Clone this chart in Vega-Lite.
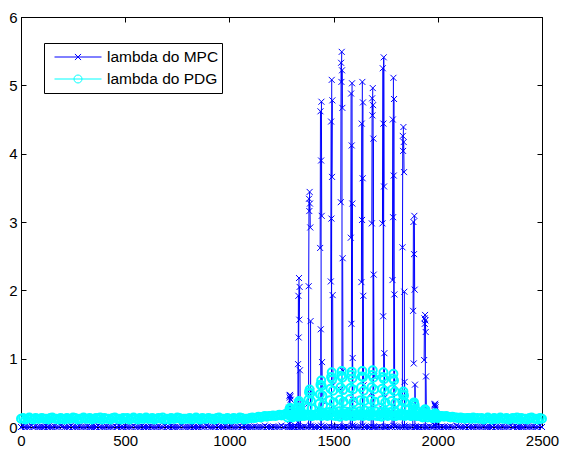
{
 "$schema": "https://vega.github.io/schema/vega-lite/v6.json",
 "width": 521,
 "height": 410,
 "autosize": {"type": "none"},
 "padding": {"left": 21, "top": 17, "right": 21, "bottom": 25},
 "background": "white",
 "data": {"values": [
{"x":0,"MPC":0,"PDG":0.12},{"x":10,"MPC":0.01,"PDG":0.13},{"x":20,"MPC":0,"PDG":0.11},{"x":30,"MPC":0,"PDG":0.12},{"x":40,"MPC":0,"PDG":0.14},{"x":50,"MPC":0.02,"PDG":0.12},{"x":60,"MPC":0,"PDG":0.11},{"x":70,"MPC":0.01,"PDG":0.13},{"x":80,"MPC":0,"PDG":0.12},{"x":90,"MPC":0,"PDG":0.12},
{"x":100,"MPC":0,"PDG":0.13},{"x":110,"MPC":0,"PDG":0.12},{"x":120,"MPC":0.01,"PDG":0.12},{"x":130,"MPC":0,"PDG":0.11},{"x":140,"MPC":0,"PDG":0.13},{"x":150,"MPC":0,"PDG":0.14},{"x":160,"MPC":0.01,"PDG":0.12},{"x":170,"MPC":0,"PDG":0.12},{"x":180,"MPC":0,"PDG":0.11},{"x":190,"MPC":0.02,"PDG":0.13},
{"x":200,"MPC":0.01,"PDG":0.12},{"x":210,"MPC":0,"PDG":0.11},{"x":220,"MPC":0,"PDG":0.13},{"x":230,"MPC":0,"PDG":0.12},{"x":240,"MPC":0.02,"PDG":0.12},{"x":250,"MPC":0,"PDG":0.14},{"x":260,"MPC":0,"PDG":0.13},{"x":270,"MPC":0,"PDG":0.11},{"x":280,"MPC":0.01,"PDG":0.12},{"x":290,"MPC":0,"PDG":0.12},
{"x":300,"MPC":0,"PDG":0.14},{"x":310,"MPC":0,"PDG":0.12},{"x":320,"MPC":0.01,"PDG":0.12},{"x":330,"MPC":0,"PDG":0.13},{"x":340,"MPC":0,"PDG":0.11},{"x":350,"MPC":0,"PDG":0.12},{"x":360,"MPC":0,"PDG":0.13},{"x":370,"MPC":0.02,"PDG":0.12},{"x":380,"MPC":0,"PDG":0.14},{"x":390,"MPC":0,"PDG":0.11},
{"x":400,"MPC":0,"PDG":0.13},{"x":410,"MPC":0.01,"PDG":0.12},{"x":420,"MPC":0,"PDG":0.12},{"x":430,"MPC":0,"PDG":0.11},{"x":440,"MPC":0,"PDG":0.13},{"x":450,"MPC":0.02,"PDG":0.14},{"x":460,"MPC":0,"PDG":0.12},{"x":470,"MPC":0.01,"PDG":0.12},{"x":480,"MPC":0,"PDG":0.11},{"x":490,"MPC":0,"PDG":0.13},
{"x":500,"MPC":0.01,"PDG":0.12},{"x":510,"MPC":0,"PDG":0.13},{"x":520,"MPC":0,"PDG":0.11},{"x":530,"MPC":0,"PDG":0.12},{"x":540,"MPC":0.02,"PDG":0.14},{"x":550,"MPC":0,"PDG":0.12},{"x":560,"MPC":0,"PDG":0.11},{"x":570,"MPC":0,"PDG":0.13},{"x":580,"MPC":0.01,"PDG":0.12},{"x":590,"MPC":0,"PDG":0.12},
{"x":600,"MPC":0,"PDG":0.14},{"x":610,"MPC":0,"PDG":0.12},{"x":620,"MPC":0.01,"PDG":0.12},{"x":630,"MPC":0,"PDG":0.13},{"x":640,"MPC":0,"PDG":0.11},{"x":650,"MPC":0,"PDG":0.12},{"x":660,"MPC":0.01,"PDG":0.13},{"x":670,"MPC":0,"PDG":0.12},{"x":680,"MPC":0,"PDG":0.14},{"x":690,"MPC":0.02,"PDG":0.11},
{"x":700,"MPC":0,"PDG":0.12},{"x":710,"MPC":0,"PDG":0.11},{"x":720,"MPC":0.01,"PDG":0.13},{"x":730,"MPC":0,"PDG":0.12},{"x":740,"MPC":0,"PDG":0.12},{"x":750,"MPC":0,"PDG":0.14},{"x":760,"MPC":0,"PDG":0.13},{"x":770,"MPC":0.02,"PDG":0.11},{"x":780,"MPC":0,"PDG":0.12},{"x":790,"MPC":0,"PDG":0.12},
{"x":800,"MPC":0,"PDG":0.12},{"x":810,"MPC":0,"PDG":0.13},{"x":820,"MPC":0.01,"PDG":0.11},{"x":830,"MPC":0,"PDG":0.12},{"x":840,"MPC":0,"PDG":0.14},{"x":850,"MPC":0,"PDG":0.12},{"x":860,"MPC":0.01,"PDG":0.11},{"x":870,"MPC":0,"PDG":0.13},{"x":880,"MPC":0,"PDG":0.12},{"x":890,"MPC":0.02,"PDG":0.12},
{"x":900,"MPC":0.01,"PDG":0.13},{"x":910,"MPC":0,"PDG":0.12},{"x":920,"MPC":0,"PDG":0.12},{"x":930,"MPC":0,"PDG":0.11},{"x":940,"MPC":0.02,"PDG":0.13},{"x":950,"MPC":0,"PDG":0.14},{"x":960,"MPC":0,"PDG":0.12},{"x":970,"MPC":0,"PDG":0.12},{"x":980,"MPC":0.01,"PDG":0.11},{"x":990,"MPC":0,"PDG":0.13},
{"x":1000,"MPC":0,"PDG":0.12},{"x":1010,"MPC":0.01,"PDG":0.11},{"x":1020,"MPC":0,"PDG":0.13},{"x":1030,"MPC":0,"PDG":0.12},{"x":1040,"MPC":0,"PDG":0.12},{"x":1050,"MPC":0.02,"PDG":0.14},{"x":1060,"MPC":0,"PDG":0.13},{"x":1070,"MPC":0.01,"PDG":0.11},{"x":1080,"MPC":0,"PDG":0.12},{"x":1090,"MPC":0,"PDG":0.12},
{"x":1100,"MPC":0,"PDG":0.13},{"x":1110,"MPC":0,"PDG":0.14},{"x":1120,"MPC":0.01,"PDG":0.13},{"x":1130,"MPC":0,"PDG":0.14},{"x":1140,"MPC":0,"PDG":0.15},{"x":1150,"MPC":0,"PDG":0.14},{"x":1160,"MPC":0,"PDG":0.15},{"x":1170,"MPC":0.02,"PDG":0.16},{"x":1180,"MPC":0,"PDG":0.15},{"x":1190,"MPC":0,"PDG":0.16},
{"x":1200,"MPC":0,"PDG":0.16},{"x":1210,"MPC":0.01,"PDG":0.17},{"x":1220,"MPC":0,"PDG":0.16},{"x":1230,"MPC":0,"PDG":0.17},{"x":1240,"MPC":0,"PDG":0.18},{"x":1250,"MPC":0.02,"PDG":0.17},{"x":1260,"MPC":0,"PDG":0.18},{"x":1270,"MPC":0.01,"PDG":0.19},{"x":1280,"MPC":0,"PDG":0.18},{"x":1290,"MPC":0,"PDG":0.17},
{"x":1300,"MPC":0,"PDG":0.17},{"x":1310,"MPC":0,"PDG":0.16},{"x":1320,"MPC":0.01,"PDG":0.18},{"x":1330,"MPC":0,"PDG":0.15},{"x":1340,"MPC":0,"PDG":0.17},{"x":1350,"MPC":0,"PDG":0.19},{"x":1360,"MPC":0.01,"PDG":0.16},{"x":1370,"MPC":0,"PDG":0.18},{"x":1380,"MPC":0,"PDG":0.17},{"x":1390,"MPC":0.02,"PDG":0.16},
{"x":1400,"MPC":0.01,"PDG":0.16},{"x":1410,"MPC":0,"PDG":0.18},{"x":1420,"MPC":0,"PDG":0.17},{"x":1430,"MPC":0,"PDG":0.19},{"x":1440,"MPC":0.02,"PDG":0.16},{"x":1450,"MPC":0,"PDG":0.17},{"x":1460,"MPC":0,"PDG":0.18},{"x":1470,"MPC":0,"PDG":0.16},{"x":1480,"MPC":0.01,"PDG":0.19},{"x":1490,"MPC":0,"PDG":0.17},
{"x":1500,"MPC":0,"PDG":0.17},{"x":1510,"MPC":0,"PDG":0.16},{"x":1520,"MPC":0.01,"PDG":0.18},{"x":1530,"MPC":0,"PDG":0.15},{"x":1540,"MPC":0,"PDG":0.17},{"x":1550,"MPC":0,"PDG":0.19},{"x":1560,"MPC":0.01,"PDG":0.16},{"x":1570,"MPC":0,"PDG":0.18},{"x":1580,"MPC":0,"PDG":0.17},{"x":1590,"MPC":0.02,"PDG":0.16},
{"x":1600,"MPC":0.01,"PDG":0.16},{"x":1610,"MPC":0,"PDG":0.18},{"x":1620,"MPC":0,"PDG":0.17},{"x":1630,"MPC":0,"PDG":0.19},{"x":1640,"MPC":0.02,"PDG":0.16},{"x":1650,"MPC":0,"PDG":0.17},{"x":1660,"MPC":0,"PDG":0.18},{"x":1670,"MPC":0,"PDG":0.16},{"x":1680,"MPC":0.01,"PDG":0.19},{"x":1690,"MPC":0,"PDG":0.17},
{"x":1700,"MPC":0,"PDG":0.17},{"x":1710,"MPC":0,"PDG":0.16},{"x":1720,"MPC":0.01,"PDG":0.18},{"x":1730,"MPC":0,"PDG":0.15},{"x":1740,"MPC":0,"PDG":0.17},{"x":1750,"MPC":0,"PDG":0.19},{"x":1760,"MPC":0.01,"PDG":0.16},{"x":1770,"MPC":0,"PDG":0.18},{"x":1780,"MPC":0,"PDG":0.17},{"x":1790,"MPC":0.02,"PDG":0.16},
{"x":1800,"MPC":0.01,"PDG":0.16},{"x":1810,"MPC":0,"PDG":0.18},{"x":1820,"MPC":0,"PDG":0.17},{"x":1830,"MPC":0,"PDG":0.19},{"x":1840,"MPC":0.02,"PDG":0.16},{"x":1850,"MPC":0,"PDG":0.17},{"x":1860,"MPC":0,"PDG":0.18},{"x":1870,"MPC":0,"PDG":0.16},{"x":1880,"MPC":0.01,"PDG":0.19},{"x":1890,"MPC":0,"PDG":0.17},
{"x":1900,"MPC":0,"PDG":0.17},{"x":1910,"MPC":0,"PDG":0.16},{"x":1920,"MPC":0.01,"PDG":0.18},{"x":1930,"MPC":0,"PDG":0.15},{"x":1940,"MPC":0,"PDG":0.17},{"x":1950,"MPC":0,"PDG":0.19},{"x":1960,"MPC":0.01,"PDG":0.16},{"x":1970,"MPC":0,"PDG":0.18},{"x":1980,"MPC":0,"PDG":0.17},{"x":1990,"MPC":0.02,"PDG":0.16},
{"x":2000,"MPC":0,"PDG":0.17},{"x":2010,"MPC":0,"PDG":0.16},{"x":2020,"MPC":0.01,"PDG":0.16},{"x":2030,"MPC":0,"PDG":0.15},{"x":2040,"MPC":0,"PDG":0.16},{"x":2050,"MPC":0,"PDG":0.15},{"x":2060,"MPC":0.01,"PDG":0.14},{"x":2070,"MPC":0,"PDG":0.15},{"x":2080,"MPC":0,"PDG":0.14},{"x":2090,"MPC":0.02,"PDG":0.14},
{"x":2100,"MPC":0.01,"PDG":0.13},{"x":2110,"MPC":0,"PDG":0.14},{"x":2120,"MPC":0,"PDG":0.13},{"x":2130,"MPC":0,"PDG":0.12},{"x":2140,"MPC":0.02,"PDG":0.13},{"x":2150,"MPC":0,"PDG":0.13},{"x":2160,"MPC":0,"PDG":0.12},{"x":2170,"MPC":0,"PDG":0.14},{"x":2180,"MPC":0.01,"PDG":0.12},{"x":2190,"MPC":0,"PDG":0.13},
{"x":2200,"MPC":0,"PDG":0.12},{"x":2210,"MPC":0,"PDG":0.13},{"x":2220,"MPC":0.01,"PDG":0.11},{"x":2230,"MPC":0,"PDG":0.12},{"x":2240,"MPC":0,"PDG":0.14},{"x":2250,"MPC":0,"PDG":0.12},{"x":2260,"MPC":0,"PDG":0.11},{"x":2270,"MPC":0.02,"PDG":0.13},{"x":2280,"MPC":0,"PDG":0.12},{"x":2290,"MPC":0,"PDG":0.12},
{"x":2300,"MPC":0,"PDG":0.14},{"x":2310,"MPC":0.01,"PDG":0.12},{"x":2320,"MPC":0,"PDG":0.12},{"x":2330,"MPC":0,"PDG":0.13},{"x":2340,"MPC":0,"PDG":0.11},{"x":2350,"MPC":0.02,"PDG":0.12},{"x":2360,"MPC":0,"PDG":0.13},{"x":2370,"MPC":0.01,"PDG":0.12},{"x":2380,"MPC":0,"PDG":0.14},{"x":2390,"MPC":0,"PDG":0.11},
{"x":2400,"MPC":0,"PDG":0.13},{"x":2410,"MPC":0,"PDG":0.12},{"x":2420,"MPC":0.01,"PDG":0.12},{"x":2430,"MPC":0,"PDG":0.11},{"x":2440,"MPC":0,"PDG":0.13},{"x":2450,"MPC":0,"PDG":0.14},{"x":2460,"MPC":0.01,"PDG":0.12},{"x":2470,"MPC":0,"PDG":0.12},{"x":2480,"MPC":0,"PDG":0.11},{"x":2490,"MPC":0.02,"PDG":0.13},
{"x":2500,"MPC":0,"PDG":0.12},
{"x":1285,"MPC":0.05},{"x":1286.5,"MPC":0.28},{"x":1288,"MPC":0.46},{"x":1289.5,"MPC":0.43},{"x":1291,"MPC":0.47},{"x":1292.5,"MPC":0.45},{"x":1294,"MPC":0.40},{"x":1295.5,"MPC":0.21},{"x":1297,"MPC":0.07},{"x":1298.5,"MPC":0},
{"x":1328,"MPC":0.07},{"x":1329.5,"MPC":0.92},{"x":1331,"MPC":1.92},{"x":1332.5,"MPC":1.31},{"x":1334,"MPC":2.18},{"x":1335.5,"MPC":1.57},{"x":1337,"MPC":2.05},{"x":1338.5,"MPC":0.83},{"x":1340,"MPC":0.26},{"x":1341.5,"MPC":0},
{"x":1379,"MPC":0.34},{"x":1380.5,"MPC":2.06},{"x":1382,"MPC":3.34},{"x":1383.5,"MPC":3.16},{"x":1385,"MPC":3.44},{"x":1386.5,"MPC":3.27},{"x":1388,"MPC":2.92},{"x":1389.5,"MPC":1.55},{"x":1391,"MPC":0.52},{"x":1392.5,"MPC":0},
{"x":1434,"MPC":0.24},{"x":1435.5,"MPC":2.62},{"x":1437,"MPC":4.62},{"x":1438.5,"MPC":1.43},{"x":1440,"MPC":3.90},{"x":1441.5,"MPC":4.76},{"x":1443,"MPC":3.09},{"x":1444.5,"MPC":0.95},{"x":1446,"MPC":0.38},{"x":1447.5,"MPC":0},
{"x":1485,"MPC":0.15},{"x":1486.5,"MPC":2.13},{"x":1488,"MPC":4.47},{"x":1489.5,"MPC":3.05},{"x":1491,"MPC":5.08},{"x":1492.5,"MPC":3.66},{"x":1494,"MPC":4.78},{"x":1495.5,"MPC":1.93},{"x":1497,"MPC":0.61},{"x":1498.5,"MPC":0},
{"x":1533,"MPC":0.55},{"x":1534.5,"MPC":3.29},{"x":1536,"MPC":5.33},{"x":1537.5,"MPC":5.05},{"x":1539,"MPC":5.49},{"x":1540.5,"MPC":5.22},{"x":1542,"MPC":4.67},{"x":1543.5,"MPC":2.47},{"x":1545,"MPC":0.82},{"x":1546.5,"MPC":0},
{"x":1581,"MPC":0.25},{"x":1582.5,"MPC":2.77},{"x":1584,"MPC":4.88},{"x":1585.5,"MPC":1.51},{"x":1587,"MPC":4.12},{"x":1588.5,"MPC":5.03},{"x":1590,"MPC":3.27},{"x":1591.5,"MPC":1.01},{"x":1593,"MPC":0.40},{"x":1594.5,"MPC":0},
{"x":1632,"MPC":0.15},{"x":1633.5,"MPC":2.12},{"x":1635,"MPC":4.44},{"x":1636.5,"MPC":3.03},{"x":1638,"MPC":5.05},{"x":1639.5,"MPC":3.64},{"x":1641,"MPC":4.75},{"x":1642.5,"MPC":1.92},{"x":1644,"MPC":0.61},{"x":1645.5,"MPC":0},
{"x":1682,"MPC":0.50},{"x":1683.5,"MPC":2.98},{"x":1685,"MPC":4.81},{"x":1686.5,"MPC":4.56},{"x":1688,"MPC":4.96},{"x":1689.5,"MPC":4.71},{"x":1691,"MPC":4.22},{"x":1692.5,"MPC":2.23},{"x":1694,"MPC":0.74},{"x":1695.5,"MPC":0},
{"x":1733,"MPC":0.27},{"x":1734.5,"MPC":2.98},{"x":1736,"MPC":5.25},{"x":1737.5,"MPC":1.62},{"x":1739,"MPC":4.44},{"x":1740.5,"MPC":5.41},{"x":1742,"MPC":3.52},{"x":1743.5,"MPC":1.08},{"x":1745,"MPC":0.43},{"x":1746.5,"MPC":0},
{"x":1781,"MPC":0.15},{"x":1782.5,"MPC":2.15},{"x":1784,"MPC":4.50},{"x":1785.5,"MPC":3.07},{"x":1787,"MPC":5.11},{"x":1788.5,"MPC":3.68},{"x":1790,"MPC":4.80},{"x":1791.5,"MPC":1.94},{"x":1793,"MPC":0.61},{"x":1794.5,"MPC":0},
{"x":1829,"MPC":0.44},{"x":1830.5,"MPC":2.63},{"x":1832,"MPC":4.26},{"x":1833.5,"MPC":4.04},{"x":1835,"MPC":4.39},{"x":1836.5,"MPC":4.17},{"x":1838,"MPC":3.73},{"x":1839.5,"MPC":1.98},{"x":1841,"MPC":0.66},{"x":1842.5,"MPC":0},
{"x":1880,"MPC":0.15},{"x":1881.5,"MPC":1.70},{"x":1883,"MPC":3.00},{"x":1884.5,"MPC":0.93},{"x":1886,"MPC":2.53},{"x":1887.5,"MPC":3.09},{"x":1889,"MPC":2.01},{"x":1890.5,"MPC":0.62},{"x":1892,"MPC":0.25},{"x":1893.5,"MPC":0},
{"x":1933,"MPC":0.16},{"x":1934.5,"MPC":0.98},{"x":1936,"MPC":1.59},{"x":1937.5,"MPC":1.51},{"x":1939,"MPC":1.64},{"x":1940.5,"MPC":1.56},{"x":1942,"MPC":1.39},{"x":1943.5,"MPC":0.74},{"x":1945,"MPC":0.25},{"x":1946.5,"MPC":0},
{"x":1981,"MPC":0.03},{"x":1982.5,"MPC":0.20},{"x":1984,"MPC":0.33},{"x":1985.5,"MPC":0.31},{"x":1987,"MPC":0.34},{"x":1988.5,"MPC":0.32},{"x":1990,"MPC":0.29},{"x":1991.5,"MPC":0.15},{"x":1993,"MPC":0.05},{"x":1994.5,"MPC":0},
{"x":1279,"PDG":0.14},{"x":1282,"PDG":0.18},{"x":1285,"PDG":0.22},{"x":1288,"PDG":0.26},{"x":1291,"PDG":0.28},{"x":1294,"PDG":0.26},{"x":1297,"PDG":0.22},{"x":1300.5,"PDG":0.18},{"x":1303,"PDG":0.14},
{"x":1322,"PDG":0.16},{"x":1325,"PDG":0.22},{"x":1328,"PDG":0.29},{"x":1331,"PDG":0.35},{"x":1334,"PDG":0.38},{"x":1337,"PDG":0.34},{"x":1340.5,"PDG":0.28},{"x":1343,"PDG":0.21},{"x":1346,"PDG":0.16},
{"x":1373,"PDG":0.18},{"x":1376,"PDG":0.29},{"x":1379,"PDG":0.40},{"x":1382,"PDG":0.51},{"x":1385,"PDG":0.55},{"x":1388,"PDG":0.49},{"x":1391,"PDG":0.38},{"x":1394,"PDG":0.27},{"x":1397,"PDG":0.18},
{"x":1428,"PDG":0.20},{"x":1431,"PDG":0.34},{"x":1434,"PDG":0.48},{"x":1437,"PDG":0.62},{"x":1440.5,"PDG":0.68},{"x":1443,"PDG":0.60},{"x":1446,"PDG":0.46},{"x":1449,"PDG":0.32},{"x":1452,"PDG":0.20},
{"x":1479,"PDG":0.22},{"x":1482,"PDG":0.39},{"x":1485,"PDG":0.56},{"x":1488,"PDG":0.73},{"x":1491,"PDG":0.80},{"x":1494,"PDG":0.70},{"x":1497,"PDG":0.53},{"x":1500.5,"PDG":0.36},{"x":1503,"PDG":0.22},
{"x":1527,"PDG":0.23},{"x":1530.5,"PDG":0.40},{"x":1533,"PDG":0.58},{"x":1536,"PDG":0.75},{"x":1539,"PDG":0.82},{"x":1542,"PDG":0.72},{"x":1545,"PDG":0.54},{"x":1548,"PDG":0.37},{"x":1551,"PDG":0.23},
{"x":1575,"PDG":0.22},{"x":1578,"PDG":0.41},{"x":1581,"PDG":0.57},{"x":1584,"PDG":0.76},{"x":1587,"PDG":0.81},{"x":1590,"PDG":0.71},{"x":1593,"PDG":0.55},{"x":1596,"PDG":0.36},{"x":1599,"PDG":0.22},
{"x":1626,"PDG":0.23},{"x":1629,"PDG":0.39},{"x":1632,"PDG":0.58},{"x":1635,"PDG":0.74},{"x":1638,"PDG":0.82},{"x":1641,"PDG":0.73},{"x":1644,"PDG":0.53},{"x":1647,"PDG":0.38},{"x":1650.5,"PDG":0.24},
{"x":1676,"PDG":0.23},{"x":1679,"PDG":0.40},{"x":1682,"PDG":0.58},{"x":1685,"PDG":0.76},{"x":1688,"PDG":0.83},{"x":1691,"PDG":0.72},{"x":1694,"PDG":0.55},{"x":1697,"PDG":0.37},{"x":1700.5,"PDG":0.23},
{"x":1727,"PDG":0.22},{"x":1730.5,"PDG":0.39},{"x":1733,"PDG":0.56},{"x":1736,"PDG":0.73},{"x":1739,"PDG":0.80},{"x":1742,"PDG":0.70},{"x":1745,"PDG":0.53},{"x":1748,"PDG":0.36},{"x":1751,"PDG":0.22},
{"x":1775,"PDG":0.22},{"x":1778,"PDG":0.38},{"x":1781,"PDG":0.55},{"x":1784,"PDG":0.71},{"x":1787,"PDG":0.78},{"x":1790,"PDG":0.68},{"x":1793,"PDG":0.52},{"x":1796,"PDG":0.35},{"x":1799,"PDG":0.22},
{"x":1823,"PDG":0.18},{"x":1826,"PDG":0.28},{"x":1829,"PDG":0.38},{"x":1832,"PDG":0.48},{"x":1835,"PDG":0.52},{"x":1838,"PDG":0.46},{"x":1841,"PDG":0.36},{"x":1844,"PDG":0.26},{"x":1847,"PDG":0.18},
{"x":1874,"PDG":0.16},{"x":1877,"PDG":0.22},{"x":1880.5,"PDG":0.28},{"x":1883,"PDG":0.34},{"x":1886,"PDG":0.36},{"x":1889,"PDG":0.32},{"x":1892,"PDG":0.26},{"x":1895,"PDG":0.20},{"x":1898,"PDG":0.16},
{"x":1927,"PDG":0.14},{"x":1930.5,"PDG":0.18},{"x":1933,"PDG":0.21},{"x":1936,"PDG":0.25},{"x":1939,"PDG":0.26},{"x":1942,"PDG":0.24},{"x":1945,"PDG":0.20},{"x":1948,"PDG":0.17},{"x":1951,"PDG":0.14},
{"x":1975,"PDG":0.13},{"x":1978,"PDG":0.15},{"x":1981,"PDG":0.17},{"x":1984,"PDG":0.19},{"x":1987,"PDG":0.20},{"x":1990,"PDG":0.19},{"x":1993,"PDG":0.17},{"x":1996,"PDG":0.15},{"x":1999,"PDG":0.13}
 ]},
 "transform": [{"fold": ["MPC", "PDG"], "as": ["serie", "y"]}],
 "layer": [
  {
   "transform": [{"filter": "datum.serie === 'MPC'"}],
   "mark": {"type": "line", "strokeWidth": 1},
   "encoding": {
    "x": {"field": "x", "type": "quantitative", "scale": {"domain": [0, 2500], "nice": false, "zero": false},
          "axis": {"orient": "bottom", "values": [0, 500, 1000, 1500, 2000, 2500], "format": "d", "title": null, "labelPadding": 11}},
    "y": {"field": "y", "type": "quantitative", "scale": {"domain": [0, 6], "nice": false},
          "axis": {"orient": "left", "values": [0, 1, 2, 3, 4, 5, 6], "format": "d", "title": null, "labelPadding": 9}},
    "color": {"field": "serie", "type": "nominal", "scale": {"domain": ["MPC", "PDG"], "range": ["#0000ff", "#00ffff"]},
      "legend": {"orient": "none", "legendX": 23, "legendY": 26, "title": null, "direction": "vertical",
        "padding": 3, "clipHeight": 22, "symbolSize": 2209, "symbolStrokeWidth": 1, "symbolOffset": 7,
        "labelOffset": 5, "rowPadding": 0, "strokeColor": "black", "fillColor": "white",
        "labelFont": "Liberation Sans", "labelFontSize": 15.5, "labelColor": "black",
        "labelExpr": "'lambda do ' + datum.label",
        "encode": {"symbols": {"update": {
          "shape": {"signal": "datum.value === 'MPC' ? 'M-1,0L1,0M-0.13,-0.13L0.13,0.13M-0.13,0.13L0.13,-0.13' : 'M-1,0L1,0M0.17,0A0.17,0.17,0,1,1,-0.17,0A0.17,0.17,0,1,1,0.17,0'"},
          "fill": {"value": "transparent"},
          "strokeWidth": {"value": 1},
          "opacity": {"value": 1}}}}}}
   }
  },
  {
   "transform": [{"filter": "datum.serie === 'MPC'"}],
   "mark": {"type": "point", "shape": "M-1,-1L1,1M-1,1L1,-1", "size": 36, "filled": false, "strokeWidth": 1, "opacity": 1},
   "encoding": {
    "x": {"field": "x", "type": "quantitative", "axis": null},
    "y": {"field": "y", "type": "quantitative", "axis": null},
    "color": {"field": "serie", "type": "nominal"}
   }
  },
  {
   "transform": [{"filter": "datum.serie === 'PDG'"}],
   "mark": {"type": "line", "strokeWidth": 1},
   "encoding": {
    "x": {"field": "x", "type": "quantitative", "axis": {"orient": "top", "values": [0, 500, 1000, 1500, 2000, 2500], "labels": false, "title": null}},
    "y": {"field": "y", "type": "quantitative", "axis": {"orient": "right", "values": [0, 1, 2, 3, 4, 5, 6], "labels": false, "title": null}},
    "color": {"field": "serie", "type": "nominal"}
   }
  },
  {
   "transform": [{"filter": "datum.serie === 'PDG'"}],
   "mark": {"type": "point", "shape": "circle", "size": 64, "filled": false, "strokeWidth": 2, "opacity": 1},
   "encoding": {
    "x": {"field": "x", "type": "quantitative", "axis": null},
    "y": {"field": "y", "type": "quantitative", "axis": null},
    "color": {"field": "serie", "type": "nominal"}
   }
  }
 ],
 "resolve": {"axis": {"x": "independent", "y": "independent"}},
 "config": {
  "font": "Liberation Sans",
  "view": {"stroke": "black", "strokeWidth": 1},
  "axis": {"domainColor": "black", "domainWidth": 1, "tickColor": "black", "tickSize": -5, "tickWidth": 1,
           "labelFont": "Liberation Sans", "labelFontSize": 15, "labelColor": "black", "grid": false,
           "labelFlush": false, "labelOverlap": false}
 }
}
